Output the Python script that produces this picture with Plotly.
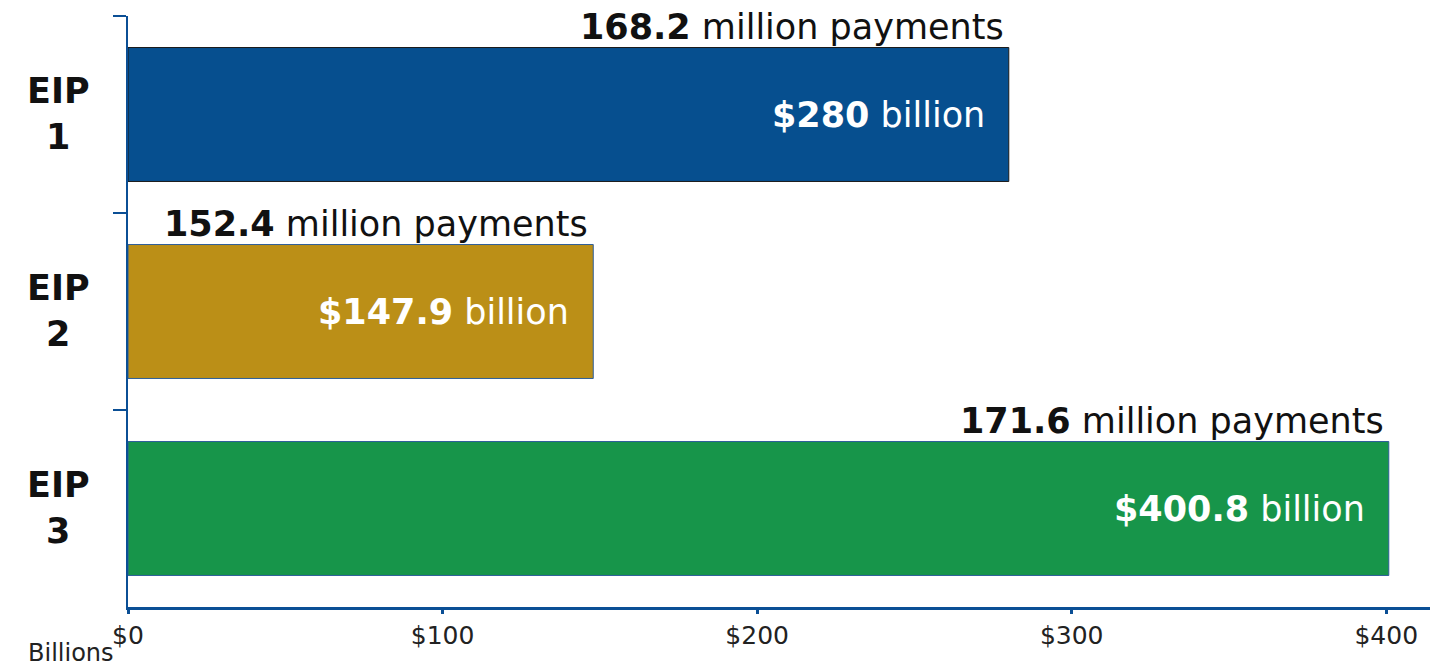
import plotly.graph_objects as go

categories = ["EIP 1", "EIP 2", "EIP 3"]
cat_labels = ["EIP<br>1", "EIP<br>2", "EIP<br>3"]
amounts_billion = [280, 147.9, 400.8]
amount_text = ["$280", "$147.9", "$400.8"]
payments_million = ["168.2", "152.4", "171.6"]
bar_colors = ["#064f8f", "#bb8f17", "#17954a"]
bar_line_colors = ["#1a1a1a", "#2e5f9a", "#2e5f9a"]
x_tickvals = [0, 100, 200, 300, 400]
x_ticktext = ["$0", "$100", "$200", "$300", "$400"]

AXIS_BLUE = "#0b4f95"
FONT = "DejaVu Sans"

fig = go.Figure()
fig.add_trace(go.Bar(
    x=amounts_billion,
    y=categories,
    orientation="h",
    width=0.68,
    marker=dict(color=bar_colors, line=dict(color=bar_line_colors, width=1)),
    hoverinfo="skip",
))

annotations = []
for cat, lab, val, amt, pay in zip(categories, cat_labels, amounts_billion, amount_text, payments_million):
    annotations.append(dict(
        x=val, y=cat, xref="x", yref="y",
        text=f"<b>{amt}</b> billion",
        showarrow=False, xanchor="right", yanchor="middle",
        xshift=-22, yshift=0,
        font=dict(family=FONT, size=35, color="white"),
    ))
    annotations.append(dict(
        x=val, y=cat, xref="x", yref="y",
        text=f"<b>{pay}</b> million payments",
        showarrow=False, xanchor="right", yanchor="middle",
        xshift=-3, yshift=88,
        font=dict(family=FONT, size=35, color="#111111"),
    ))
    annotations.append(dict(
        x=-0.0535, y=cat, xref="paper", yref="y",
        text=f"<b>{lab}</b>",
        showarrow=False, xanchor="center", yanchor="middle", align="center",
        yshift=1,
        font=dict(family=FONT, size=35, color="#111111"),
    ))

annotations.append(dict(
    x=-0.0438, y=0, xref="paper", yref="paper",
    text="Billions", showarrow=False, xanchor="center", yanchor="top",
    yshift=-30,
    font=dict(family=FONT, size=24, color="#222222"),
))

fig.update_layout(
    width=1430, height=666,
    margin=dict(l=128, r=0, t=16, b=59),
    paper_bgcolor="white", plot_bgcolor="white",
    showlegend=False,
    annotations=annotations,
    font=dict(family=FONT),
    xaxis=dict(
        range=[0, 413.9],
        tickvals=x_tickvals, ticktext=x_ticktext,
        showgrid=False, zeroline=False,
        showline=True, linecolor=AXIS_BLUE, linewidth=3,
        ticks="outside", ticklen=4, tickwidth=3, tickcolor=AXIS_BLUE,
        tickfont=dict(family=FONT, size=25, color="#222222"),
        fixedrange=True,
    ),
    yaxis=dict(
        type="category",
        categoryorder="array", categoryarray=categories,
        range=[2.5, -0.5],
        showticklabels=False,
        showgrid=False, zeroline=False,
        showline=True, linecolor=AXIS_BLUE, linewidth=2,
        ticks="outside", tickson="boundaries", ticklen=13, tickwidth=2, tickcolor=AXIS_BLUE,
        fixedrange=True,
    ),
)

fig.write_html(
    "out.html",
    config={"displayModeBar": False},
    post_script="document.body.style.margin='0';document.body.style.overflow='hidden';",
)
